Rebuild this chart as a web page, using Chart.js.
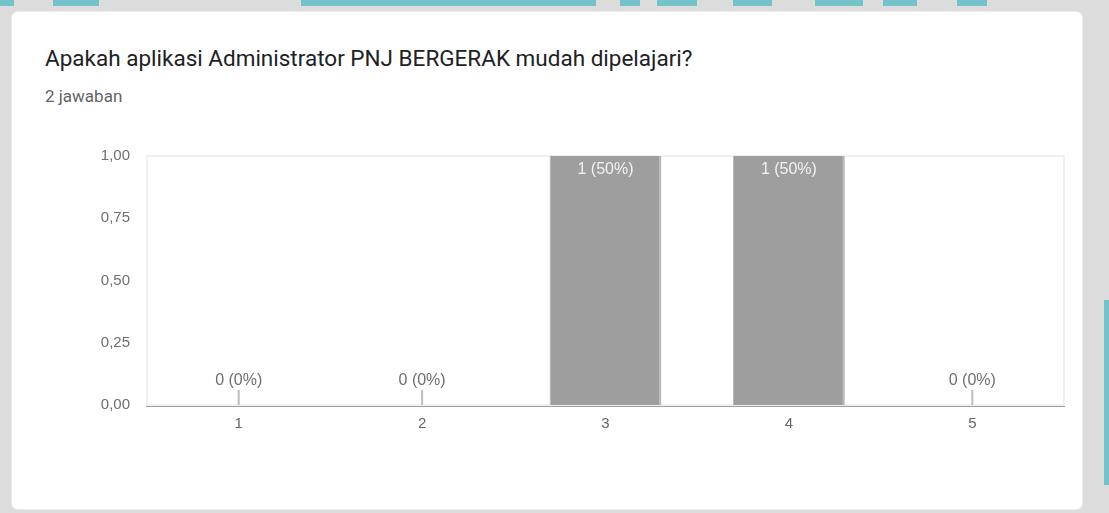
<!DOCTYPE html>
<html>
<head>
<meta charset="utf-8">
<script src="https://cdn.jsdelivr.net/npm/chart.js@4"></script>
<style>
  html, body { margin:0; padding:0; }
  body { width:1109px; height:513px; background:#dcdcdc; position:relative; overflow:hidden; }
  .teal { position:absolute; background:#74c3cb; }
  .card { position:absolute; left:12px; top:12px; width:1070px; height:497px; background:#fff; border-radius:6px; box-shadow:0 0 0 1px #ececec; }
  .title { position:absolute; left:33px; top:33px; font-family:Roboto, "Liberation Sans", sans-serif; font-size:22.5px; color:#202124; white-space:nowrap; }
  .sub { position:absolute; left:33px; top:74px; font-family:Roboto, "Liberation Sans", sans-serif; font-size:17px; color:#5f6368; white-space:nowrap; }
  .chartbox { position:absolute; left:0; top:118px; width:1070px; height:320px; }
</style>
</head>
<body>
<div class="teal" style="left:0;top:0;width:14px;height:6px"></div>
<div class="teal" style="left:53px;top:0;width:46px;height:6px"></div>
<div class="teal" style="left:301px;top:0;width:295px;height:6px"></div>
<div class="teal" style="left:620px;top:0;width:20px;height:6px"></div>
<div class="teal" style="left:657px;top:0;width:40px;height:6px"></div>
<div class="teal" style="left:733px;top:0;width:39px;height:6px"></div>
<div class="teal" style="left:815px;top:0;width:48px;height:6px"></div>
<div class="teal" style="left:883px;top:0;width:34px;height:6px"></div>
<div class="teal" style="left:957px;top:0;width:30px;height:6px"></div>
<div class="teal" style="left:1104px;top:300px;width:5px;height:185px"></div>
<div class="card">
  <div class="title">Apakah aplikasi Administrator PNJ BERGERAK mudah dipelajari?</div>
  <div class="sub">2 jawaban</div>
  <div class="chartbox"><canvas id="c" width="1070" height="320"></canvas></div>
</div>
<script>
const categories = ['1', '2', '3', '4', '5'];
const counts = [0, 0, 1, 1, 0];
const percentLabels = ['0%', '0%', '50%', '50%', '0%'];
const yTickLabels = ['0,00', '0,25', '0,50', '0,75', '1,00'];

const frame = {
  id: 'frame',
  beforeDatasetsDraw(chart) {
    const a = chart.chartArea, ctx = chart.ctx;
    ctx.save();
    ctx.strokeStyle = '#f0f0f0';
    ctx.lineWidth = 2;
    ctx.strokeRect(a.left, a.top, a.right - a.left, a.bottom - a.top);
    ctx.restore();
  }
};
const valueLabels = {
  id: 'valueLabels',
  afterDatasetsDraw(chart) {
    const ctx = chart.ctx;
    const meta = chart.getDatasetMeta(0);
    ctx.save();
    ctx.font = '16px "Liberation Sans", Arial, sans-serif';
    ctx.textAlign = 'center';
    ctx.textBaseline = 'middle';
    meta.data.forEach((bar, i) => {
      const txt = counts[i] + ' (' + percentLabels[i] + ')';
      if (counts[i] > 0) {
        ctx.fillStyle = '#f2f2f2';
        ctx.fillText(txt, bar.x, bar.y + 14);
      } else {
        ctx.strokeStyle = '#bdbdbd';
        ctx.lineWidth = 2;
        ctx.beginPath();
        ctx.moveTo(bar.x, bar.base - 15);
        ctx.lineTo(bar.x, bar.base);
        ctx.stroke();
        ctx.fillStyle = '#6f6f6f';
        ctx.fillText(txt, bar.x, bar.base - 24);
      }
    });
    ctx.restore();
  }
};

new Chart(document.getElementById('c'), {
  type: 'bar',
  data: {
    labels: categories,
    datasets: [{
      data: counts,
      backgroundColor: '#9e9e9e',
      borderColor: '#b8b8b8',
      borderWidth: {left: 1, right: 2, top: 0, bottom: 0},
      borderSkipped: false,
      barPercentage: 0.61,
      categoryPercentage: 1.0
    }]
  },
  options: {
    responsive: false,
    animation: false,
    layout: { padding: { top: 25, right: 18, left: 0, bottom: 0 } },
    plugins: { legend: { display: false }, tooltip: { enabled: false } },
    scales: {
      x: {
        grid: { display: false, drawTicks: false },
        border: { display: true, color: '#9e9e9e', width: 3 },
        ticks: { color: '#666', padding: 10, font: { family: '"Liberation Sans", Arial, sans-serif', size: 15 } },
        afterFit(s) { s.height = 45; }
      },
      y: {
        min: 0, max: 1,
        grid: { display: false, drawTicks: false },
        border: { display: false },
        ticks: {
          stepSize: 0.25,
          color: '#6f6f6f',
          padding: 17,
          font: { family: '"Liberation Sans", Arial, sans-serif', size: 15 },
          callback: (v, i) => yTickLabels[i]
        },
        afterFit(s) { s.width = 135; }
      }
    }
  },
  plugins: [frame, valueLabels]
});
</script>
</body>
</html>
